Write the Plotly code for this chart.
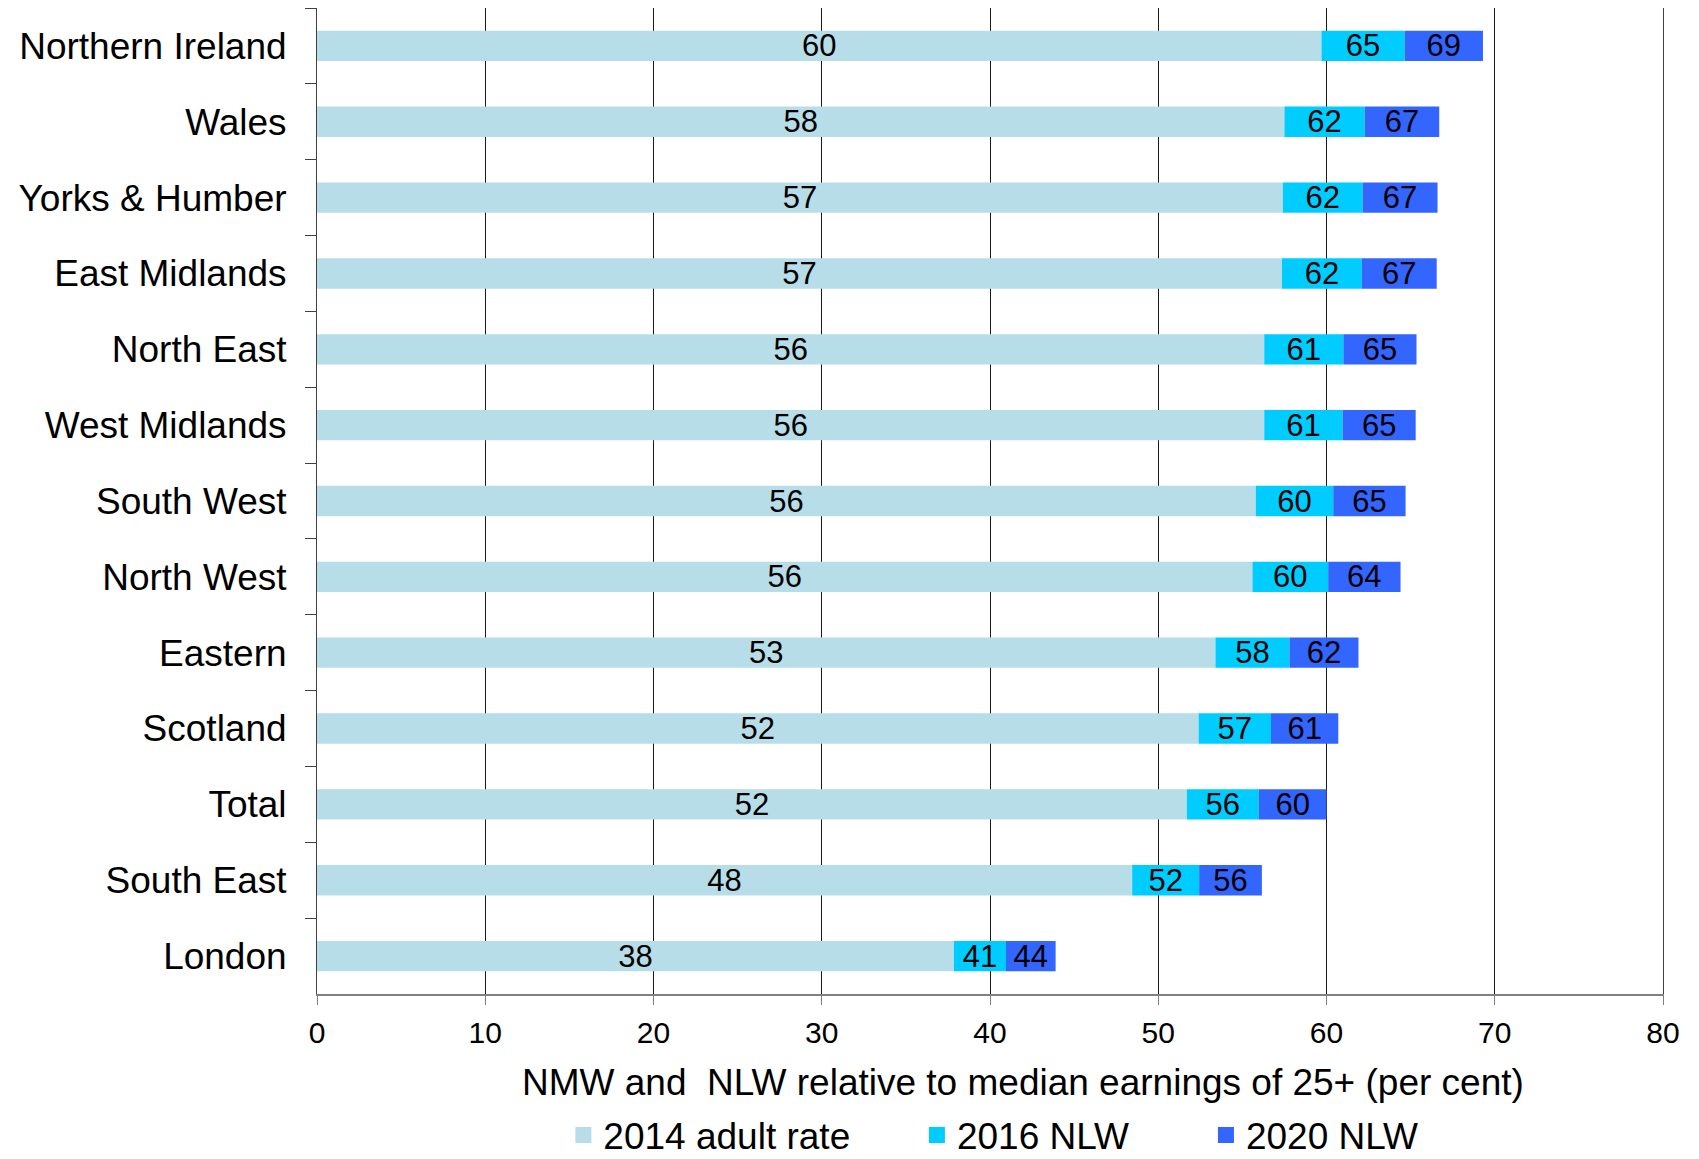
import plotly.graph_objects as go

regions = ["Northern Ireland", "Wales", "Yorks & Humber", "East Midlands", "North East",
           "West Midlands", "South West", "North West", "Eastern", "Scotland", "Total",
           "South East", "London"]
rate_2014 = [59.7, 57.5, 57.4, 57.35, 56.3, 56.3, 55.8, 55.6, 53.4, 52.4, 51.7, 48.45, 37.85]
nlw_2016 = [64.65, 62.27, 62.15, 62.1, 61.0, 60.96, 60.4, 60.1, 57.8, 56.7, 55.98, 52.43, 40.95]
nlw_2020 = [69.3, 66.7, 66.6, 66.55, 65.35, 65.3, 64.7, 64.4, 61.9, 60.7, 60.0, 56.16, 43.9]

series_names = ["2014 adult rate", "2016 NLW", "2020 NLW"]
colors = ["#B7DDE8", "#00CCFF", "#3366FF"]
x_ticks = [0, 10, 20, 30, 40, 50, 60, 70, 80]
x_title = "NMW and  NLW relative to median earnings of 25+ (per cent)"

FONT = "Liberation Sans, Arial, sans-serif"

cum = [rate_2014, nlw_2016, nlw_2020]
fig = go.Figure()
prev = [0] * len(regions)
for i, (name, vals) in enumerate(zip(series_names, cum)):
    seg = [v - p for v, p in zip(vals, prev)]
    fig.add_trace(go.Bar(
        y=regions, x=seg, base=prev, orientation="h", name=name,
        marker=dict(color=colors[i], line=dict(width=0)),
        text=[f"{round(v)}" for v in vals],
        textposition="inside", insidetextanchor="middle", textangle=0,
        constraintext="none",
        textfont=dict(family=FONT, size=31, color="black"),
        showlegend=False, hoverinfo="skip",
    ))
    prev = vals

legend_pad = [6, 7, 0]
for i, name in enumerate(series_names):
    fig.add_trace(go.Scatter(
        x=[None], y=[None], mode="markers", name=name + "\u00a0" * legend_pad[i],
        marker=dict(symbol="square", size=16, color=colors[i]),
        showlegend=True,
    ))

fig.update_layout(
    barmode="overlay",
    bargap=0.6,
    width=1699, height=1159,
    margin=dict(l=317, r=36, t=8, b=165, autoexpand=False),
    paper_bgcolor="white", plot_bgcolor="white",
    font=dict(family=FONT, color="black"),
    showlegend=True,
    legend=dict(orientation="h", x=0.5025, xanchor="center", y=-0.112, yanchor="top",
                font=dict(family=FONT, size=37, color="black"),
                itemsizing="trace", bgcolor="rgba(0,0,0,0)"),
    annotations=[dict(text=x_title, xref="paper", yref="paper", x=0.5245, y=-0.0893,
                      xanchor="center", yanchor="middle", showarrow=False,
                      font=dict(family=FONT, size=37, color="black"))],
)
fig.update_xaxes(
    range=[0, 80], tickvals=x_ticks, ticktext=[str(t) for t in x_ticks],
    showgrid=True, gridcolor="#1a1a1a", gridwidth=1, zeroline=False,
    showline=True, linecolor="#808080", linewidth=2,
    ticks="outside", ticklen=9, tickcolor="#808080", tickwidth=1,
    tickfont=dict(family=FONT, size=30, color="black"),
    ticklabelstandoff=2,
    automargin=False,
)
fig.update_yaxes(
    categoryorder="array", categoryarray=regions, autorange="reversed",
    showgrid=False, zeroline=False,
    showline=True, linecolor="#404040", linewidth=1, mirror=True,
    ticks="outside", ticklen=11, tickcolor="#404040", tickson="boundaries",
    tickfont=dict(family=FONT, size=37, color="black"),
    ticklabelstandoff=22,
    automargin=False,
)

fig.write_html("out.html")
